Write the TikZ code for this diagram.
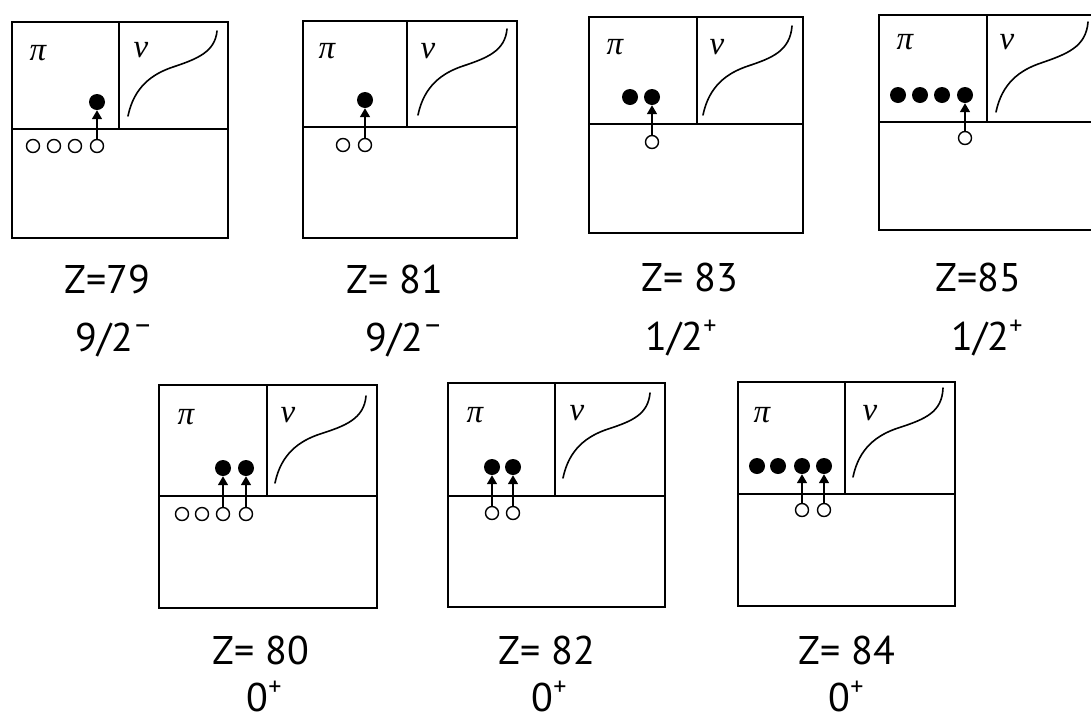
\documentclass[tikz,border=0pt]{standalone}
\usepackage{fontspec}
\setmainfont{PT Sans}
\newfontfamily\grkfont{Liberation Serif}
\usepackage{tikz}
\usetikzlibrary{arrows.meta}
\newcommand{\supminus}{\raisebox{0.42em}{\fontsize{30}{30}\selectfont –}}
\newcommand{\supplus}{\raisebox{0.40em}{\fontsize{26}{26}\selectfont +}}

\begin{document}
\begin{tikzpicture}[
    x=1pt, y=-1pt,
    frame/.style={draw=black, line width=1.9pt},
    spectrum/.style={draw=black, line width=1.6pt, line cap=round},
    % occupied and empty proton orbits
    part/.style={circle, fill=black, inner sep=0pt, minimum size=16pt},
    hole/.style={circle, draw=black, fill=white, line width=1.4pt, inner sep=0pt, minimum size=13pt},
    excite/.style={-{Triangle[length=9pt, width=10pt]}, line width=1.6pt},
    symb/.style={font=\grkfont\itshape\fontsize{33}{35}\selectfont, inner sep=0pt},
    zlbl/.style={font=\fontsize{40}{42}\selectfont, inner sep=0pt},
    spinlbl/.style={font=\fontsize{40}{42}\selectfont, inner sep=0pt},
]
\useasboundingbox (0,0) rectangle (1091,721);
\clip (0,0) rectangle (1091,721);

%% =================================================================
%% Z = 79   (top row, first)
%% =================================================================
\begin{scope}[shift={(12,22)}]
  \draw[frame] (0,0) rectangle (216,216);
  \draw[frame] (0,107) -- (216,107);
  \draw[frame] (107,0) -- (107,107);
  \node[symb] (pi1) at (26,31) {π};
  \node[symb] (nu1) at (129,28) {ν};
  \draw[spectrum] (116,94) .. controls (122,65) and (140,52) .. (161,45)
                  .. controls (185,37) and (203,30) .. (205,9);
  \node[hole] (h1a) at (21,124) {};
  \node[hole] (h1b) at (42,124) {};
  \node[hole] (h1c) at (63,124) {};
  \node[hole] (h1d) at (85,124) {};
  \node[part] (p1d) at (85,80) {};
  \draw[excite] (h1d) -- (p1d);
\end{scope}
\node[zlbl] (z79) at (107,279) {Z=79};
\node[spinlbl] (s79) at (114,340) {9/2\supminus};

%% =================================================================
%% Z = 81   (top row, second)
%% =================================================================
\begin{scope}[shift={(303,21)}]
  \draw[frame] (0,0) rectangle (214,217);
  \draw[frame] (0,106) -- (214,106);
  \draw[frame] (104,0) -- (104,106);
  \node[symb] (pi2) at (24,30) {π};
  \node[symb] (nu2) at (125,30) {ν};
  \draw[spectrum] (115,94) .. controls (121,65) and (139,52) .. (160,45)
                  .. controls (184,37) and (202,30) .. (204,8);
  \node[hole] (h2a) at (40,124) {};
  \node[hole] (h2b) at (62,124) {};
  \node[part] (p2b) at (62,79) {};
  \draw[excite] (h2b) -- (p2b);
\end{scope}
\node[zlbl] (z81) at (395,279) {Z= 81};
\node[spinlbl] (s81) at (404,340) {9/2\supminus};

%% =================================================================
%% Z = 83   (top row, third)
%% =================================================================
\begin{scope}[shift={(589,17)}]
  \draw[frame] (0,0) rectangle (214,216);
  \draw[frame] (0,107) -- (214,107);
  \draw[frame] (108,0) -- (108,107);
  \node[symb] (pi3) at (26,30) {π};
  \node[symb] (nu3) at (128,30) {ν};
  \draw[spectrum] (114,98) .. controls (120,69) and (138,56) .. (159,49)
                  .. controls (183,41) and (201,34) .. (203,9);
  \node[part] (p3a) at (41,80) {};
  \node[hole] (h3b) at (63,125) {};
  \node[part] (p3b) at (63,80) {};
  \draw[excite] (h3b) -- (p3b);
\end{scope}
\node[zlbl] (z83) at (690,277) {Z= 83};
\node[spinlbl] (s83) at (681,338) {1/2\supplus};

%% =================================================================
%% Z = 85   (top row, fourth, cut at the right)
%% =================================================================
\begin{scope}[shift={(879,15)}]
  \draw[frame] (0,0) rectangle (216,215);
  \draw[frame] (0,107) -- (216,107);
  \draw[frame] (108,0) -- (108,107);
  \node[symb] (pi4) at (26,27) {π};
  \node[symb] (nu4) at (128,27) {ν};
  \draw[spectrum] (117,97) .. controls (123,68) and (141,55) .. (162,48)
                  .. controls (188,39) and (207,32) .. (209,7);
  \node[part] (p4a) at (19,80) {};
  \node[part] (p4b) at (41,80) {};
  \node[part] (p4c) at (63,80) {};
  \node[hole] (h4d) at (86,123) {};
  \node[part] (p4d) at (86,80) {};
  \draw[excite] (h4d) -- (p4d);
\end{scope}
\node[zlbl] (z85) at (978,277) {Z=85};
\node[spinlbl] (s85) at (987,338) {1/2\supplus};

%% =================================================================
%% Z = 80   (bottom row, first)
%% =================================================================
\begin{scope}[shift={(159,385)}]
  \draw[frame] (0,0) rectangle (218,223);
  \draw[frame] (0,111) -- (218,111);
  \draw[frame] (108,0) -- (108,111);
  \node[symb] (pi5) at (27,32) {π};
  \node[symb] (nu5) at (129,30) {ν};
  \draw[spectrum] (116,98) .. controls (122,69) and (140,56) .. (161,49)
                  .. controls (186,41) and (205,34) .. (207,11);
  \node[hole] (h5a) at (23,129) {};
  \node[hole] (h5b) at (43,129) {};
  \node[hole] (h5c) at (64,129) {};
  \node[hole] (h5d) at (87,129) {};
  \node[part] (p5c) at (64,83) {};
  \node[part] (p5d) at (87,83) {};
  \draw[excite] (h5c) -- (p5c);
  \draw[excite] (h5d) -- (p5d);
\end{scope}
\node[zlbl] (z80) at (261,650) {Z= 80};
\node[spinlbl] (s80) at (264,697) {0\supplus};

%% =================================================================
%% Z = 82   (bottom row, second)
%% =================================================================
\begin{scope}[shift={(448,383)}]
  \draw[frame] (0,0) rectangle (217,224);
  \draw[frame] (0,113) -- (217,113);
  \draw[frame] (107,0) -- (107,113);
  \node[symb] (pi6) at (27,32) {π};
  \node[symb] (nu6) at (129,30) {ν};
  \draw[spectrum] (115,95) .. controls (121,66) and (139,53) .. (160,46)
                  .. controls (185,38) and (200,31) .. (202,10);
  \node[hole] (h6a) at (44,130) {};
  \node[hole] (h6b) at (65,130) {};
  \node[part] (p6a) at (44,84) {};
  \node[part] (p6b) at (65,84) {};
  \draw[excite] (h6a) -- (p6a);
  \draw[excite] (h6b) -- (p6b);
\end{scope}
\node[zlbl] (z82) at (547,650) {Z= 82};
\node[spinlbl] (s82) at (549,697) {0\supplus};

%% =================================================================
%% Z = 84   (bottom row, third)
%% =================================================================
\begin{scope}[shift={(738,382)}]
  \draw[frame] (0,0) rectangle (217,224);
  \draw[frame] (0,112) -- (217,112);
  \draw[frame] (107,0) -- (107,112);
  \node[symb] (pi7) at (24,33) {π};
  \node[symb] (nu7) at (132,31) {ν};
  \draw[spectrum] (115,95) .. controls (121,66) and (139,53) .. (160,46)
                  .. controls (188,37) and (204,30) .. (205,6);
  \node[part] (p7a) at (19,84) {};
  \node[part] (p7b) at (40,84) {};
  \node[hole] (h7c) at (64,128) {};
  \node[hole] (h7d) at (86,128) {};
  \node[part] (p7c) at (64,84) {};
  \node[part] (p7d) at (86,84) {};
  \draw[excite] (h7c) -- (p7c);
  \draw[excite] (h7d) -- (p7d);
\end{scope}
\node[zlbl] (z84) at (847,650) {Z= 84};
\node[spinlbl] (s84) at (846,697) {0\supplus};

\end{tikzpicture}
\end{document}
